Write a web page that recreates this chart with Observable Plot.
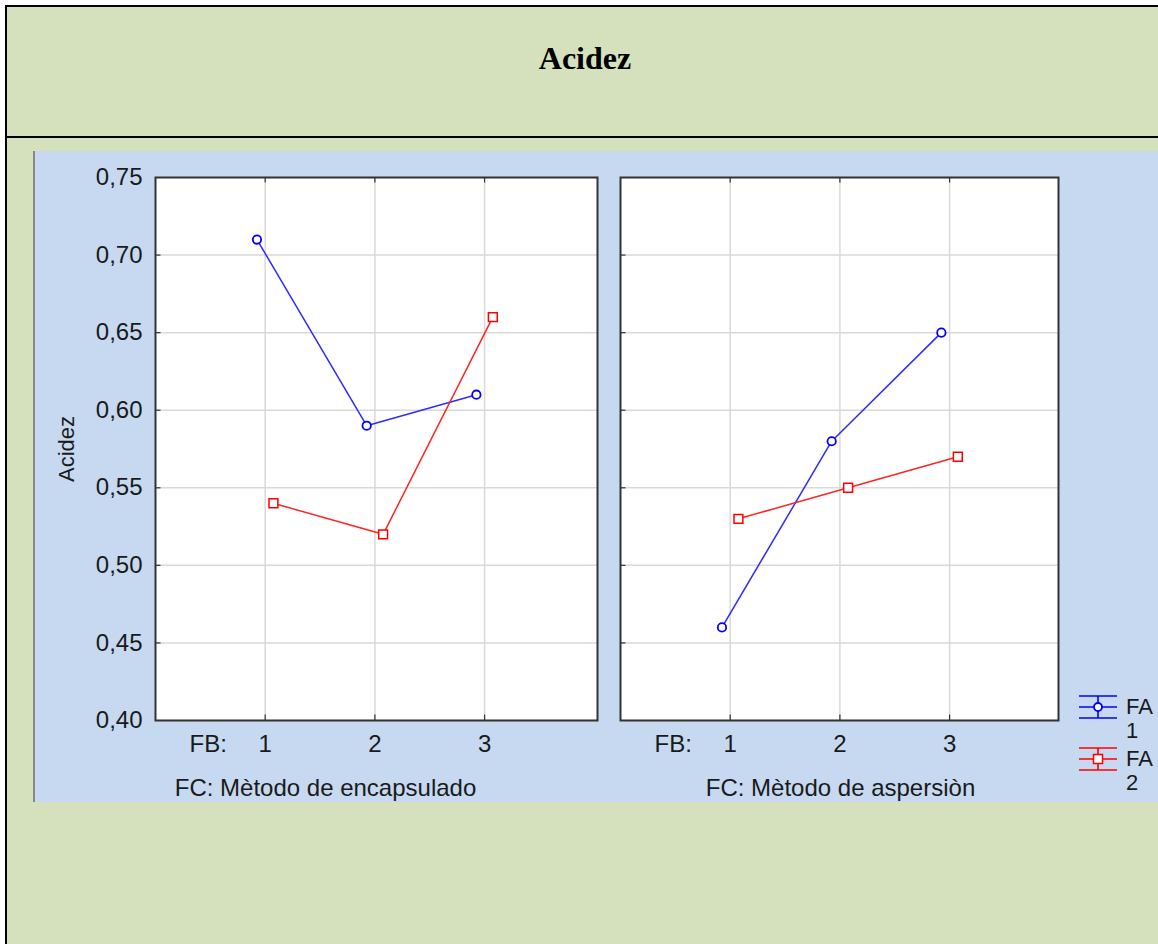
<!DOCTYPE html>
<html>
<head>
<meta charset="utf-8">
<script src="https://cdn.jsdelivr.net/npm/d3@7"></script>
<script src="https://cdn.jsdelivr.net/npm/@observablehq/plot@0.6"></script>
<style>
  body { margin: 0; background: #ffffff; }
  #page { position: relative; width: 1158px; height: 944px; overflow: hidden; font-family: "Liberation Sans", Arial, sans-serif; }
  .abs { position: absolute; }
  svg { overflow: visible; }
</style>
</head>
<body>
<div id="page">
  <div class="abs" style="left:5px;top:5px;width:1170px;height:1000px;background:#d5e0bc;border-left:2px solid #000;border-top:2px solid #000;"></div>
  <div class="abs" style="left:5px;top:136px;width:1170px;height:2px;background:#000;"></div>
  <div class="abs" id="title" style="left:0;top:42px;width:1170px;text-align:center;font-family:'Liberation Serif','Times New Roman',serif;font-weight:bold;font-size:32px;line-height:32px;color:#000;"></div>
  <div class="abs" style="left:33px;top:151px;width:1130px;height:651px;background:#c6d9f0;border-left:2px solid #8a8a8a;box-sizing:border-box;"></div>
  <div class="abs" id="left" style="left:35px;top:151px;"></div>
  <div class="abs" id="right" style="left:607px;top:151px;"></div>
  <div class="abs" id="legend" style="left:1070px;top:680px;"></div>
</div>
<script>
// ---- data ----
const titleText = "Acidez";
const yLabel = "Acidez";
const fbLevels = [1, 2, 3];
const fbLabel = "FB:";
const seriesNames = ["FA 1", "FA 2"];
const encLabel = "FC: Mètodo de encapsulado";
const aspLabel = "FC: Mètodo de aspersiòn";
const encFA1 = [0.71, 0.59, 0.61];
const encFA2 = [0.54, 0.52, 0.66];
const aspFA1 = [0.46, 0.58, 0.65];
const aspFA2 = [0.53, 0.55, 0.57];
const yTicks = [0.40, 0.45, 0.50, 0.55, 0.60, 0.65, 0.70, 0.75];

const blue = "#2b2bff";
const red = "#ff2424";
const font = "'Liberation Sans', Arial, sans-serif";

document.getElementById("title").textContent = titleText;

function rows(v1, v2) {
  const out = [];
  fbLevels.forEach((fb, i) => {
    out.push({fb, fa: seriesNames[0], v: v1[i]});
    out.push({fb, fa: seriesNames[1], v: v2[i]});
  });
  return out;
}
const dodge = d => d.fb + (d.fa === seriesNames[0] ? -0.075 : 0.075);
const fmt = d => d.toFixed(2).replace(".", ",");

function panel({data, fcLabel, fcDx, showY, xMax, width, marginLeft, marginRight}) {
  const marks = [
    Plot.frame({fill: "white", stroke: null}),
    Plot.gridX({ticks: fbLevels, stroke: "#d9d9d9", strokeOpacity: 1, strokeWidth: 1.5}),
    Plot.gridY({ticks: yTicks, stroke: "#d9d9d9", strokeOpacity: 1, strokeWidth: 1.5}),
    Plot.ruleY(yTicks.slice(1, -1), {y: d => d, x1: 0, x2: 0.05, stroke: "#333", strokeWidth: 1.2}),
    Plot.ruleX(fbLevels, {x: d => d, y1: 0.40, y2: 0.4035, stroke: "#333", strokeWidth: 1.2}),
    Plot.ruleX(fbLevels, {x: d => d, y1: 0.75, y2: 0.7465, stroke: "#333", strokeWidth: 1.2}),
    Plot.frame({stroke: "#333", strokeWidth: 2}),
    Plot.line(data, {x: dodge, y: "v", z: "fa", stroke: "fa", strokeWidth: 1.5}),
    Plot.dot(data.filter(d => d.fa === seriesNames[0]), {x: dodge, y: "v", r: 4.2, symbol: "circle", stroke: "#0000ff", fill: "white", strokeWidth: 1.8}),
    Plot.dot(data.filter(d => d.fa === seriesNames[1]), {x: dodge, y: "v", r: 5, symbol: "square", stroke: "#ff0000", fill: "white", strokeWidth: 1.5}),
    Plot.axisX({ticks: [0.48, ...fbLevels], tickSize: 0, tickPadding: 14, tickFormat: d => d < 1 ? fbLabel : String(d), fontSize: 24, fill: "#1a1a1a", label: null}),
    Plot.text([fcLabel], {frameAnchor: "bottom", textAnchor: "middle", lineAnchor: "middle", dx: fcDx, dy: 68, fontSize: 24, fill: "#1a1a1a", text: d => d})
  ];
  if (showY) {
    marks.push(Plot.axisY({ticks: yTicks, tickSize: 0, tickPadding: 13, tickFormat: fmt, fontSize: 24, fill: "#1a1a1a", label: null}));
    marks.push(Plot.text([yLabel], {frameAnchor: "left", textAnchor: "middle", lineAnchor: "middle", dx: -89, rotate: -90, fontSize: 22, fill: "#1a1a1a", text: d => d}));
  }
  return Plot.plot({
    width, height: 651,
    marginLeft, marginRight, marginTop: 26, marginBottom: 82,
    style: {background: "transparent", fontFamily: font, fontSize: "24px", overflow: "visible"},
    x: {domain: [0, xMax], axis: null},
    y: {domain: [0.40, 0.75], axis: null},
    color: {domain: seriesNames, range: [blue, red]},
    marks
  });
}

document.getElementById("left").appendChild(panel({
  data: rows(encFA1, encFA2), fcLabel: encLabel, fcDx: -51, showY: true,
  xMax: 442 / 109.7, width: 572, marginLeft: 120, marginRight: 10
}));
document.getElementById("right").appendChild(panel({
  data: rows(aspFA1, aspFA2), fcLabel: aspLabel, fcDx: 1, showY: false,
  xMax: 438 / 109.7, width: 551, marginLeft: 13, marginRight: 100
}));

// legend (HTML + inline svg glyphs)
const legend = document.getElementById("legend");
const markerColors = ["#0000ff", "#ff0000"];
seriesNames.forEach((name, i) => {
  const [a, b] = name.split(" ");
  const item = document.createElement("div");
  item.style.cssText = `position:absolute;left:0;top:${i * 52}px;width:90px;height:52px;`;
  const c = markerColors[i];
  const marker = i === 0
    ? `<circle cx="28" cy="27" r="4" fill="white" stroke="${c}" stroke-width="1.8"/>`
    : `<rect x="23.5" y="22.5" width="9" height="9" fill="white" stroke="${c}" stroke-width="1.5"/>`;
  item.innerHTML = `<svg width="50" height="52" style="position:absolute;left:0;top:0">
      <line x1="9" x2="47" y1="16" y2="16" stroke="${c}" stroke-width="1.6"/>
      <line x1="9" x2="47" y1="38" y2="38" stroke="${c}" stroke-width="1.6"/>
      <line x1="9" x2="47" y1="27" y2="27" stroke="${c}" stroke-width="1.6"/>
      <line x1="28" x2="28" y1="16" y2="38" stroke="${c}" stroke-width="1.6"/>
      ${marker}
    </svg>
    <div style="position:absolute;left:56px;top:15px;font-size:22px;line-height:24px;color:#1a1a1a">${a}<br>${b}</div>`;
  legend.appendChild(item);
});
</script>
</body>
</html>
